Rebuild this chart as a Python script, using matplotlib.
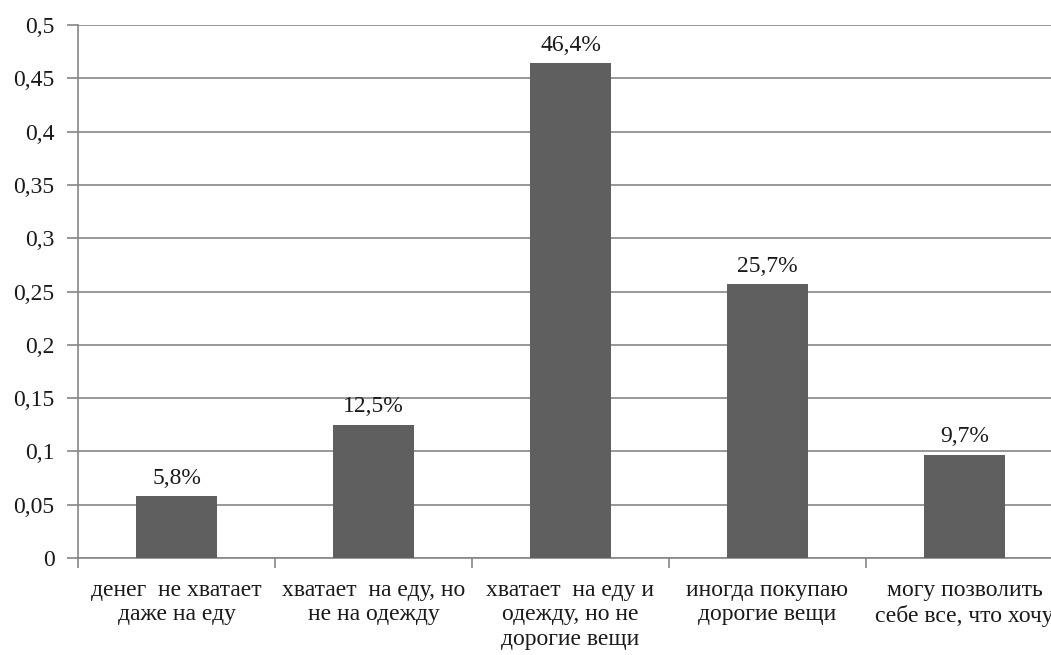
import matplotlib.pyplot as plt
from matplotlib.ticker import FuncFormatter, FixedLocator

plt.rcParams['font.family'] = ['Liberation Serif', 'DejaVu Serif']

categories = [
    "денег  не хватает\nдаже на еду",
    "хватает  на еду, но\nне на одежду",
    "хватает  на еду и\nодежду, но не\nдорогие вещи",
    "иногда покупаю\nдорогие вещи",
    "могу позволить\nсебе все, что хочу",
]
shares = [0.058, 0.125, 0.464, 0.257, 0.097]
yticks = [0, 0.05, 0.1, 0.15, 0.2, 0.25, 0.3, 0.35, 0.4, 0.45, 0.5]

axis_gray = "#868686"
bar_gray = "#5f5f5f"
text_color = "#1a1a1a"
fs = 17

fig = plt.figure(figsize=(10.51, 6.55), dpi=100)
ax = fig.add_axes([78 / 1051, 97 / 655, 985 / 1051, 533 / 655])

x = list(range(len(categories)))
ax.bar(x, shares, width=0.41, color=bar_gray, zorder=3)

for xi, v in zip(x, shares):
    ax.text(xi, v + 0.007, f"{v * 100:.1f}%".replace(".", ","),
            ha="center", va="bottom", fontsize=fs, color=text_color)

ax.set_xlim(-0.5, len(categories) - 0.5)
ax.set_ylim(0, 0.5)
ax.set_yticks(yticks)
ax.yaxis.set_major_formatter(FuncFormatter(lambda v, _: f"{v:g}".replace(".", ",")))
ax.grid(axis="y", color=axis_gray, linewidth=1.2, zorder=0)

# category labels centred, tick marks on category boundaries
ax.set_xticks(x)
ax.set_xticklabels(categories, fontsize=fs, linespacing=1.2, color=text_color)
ax.tick_params(axis="x", which="major", length=0, pad=16)
ax.xaxis.set_minor_locator(FixedLocator([i - 0.5 for i in range(len(categories) + 1)]))
ax.tick_params(axis="x", which="minor", length=7, width=1.2, color=axis_gray, direction="out")
ax.tick_params(axis="y", length=8, width=1.2, color=axis_gray, labelsize=fs,
               labelcolor=text_color, pad=9)

for side in ["top", "right"]:
    ax.spines[side].set_visible(False)
for side in ["left", "bottom"]:
    ax.spines[side].set_color(axis_gray)
    ax.spines[side].set_linewidth(1.2)

fig.savefig("out.png", dpi=100)
